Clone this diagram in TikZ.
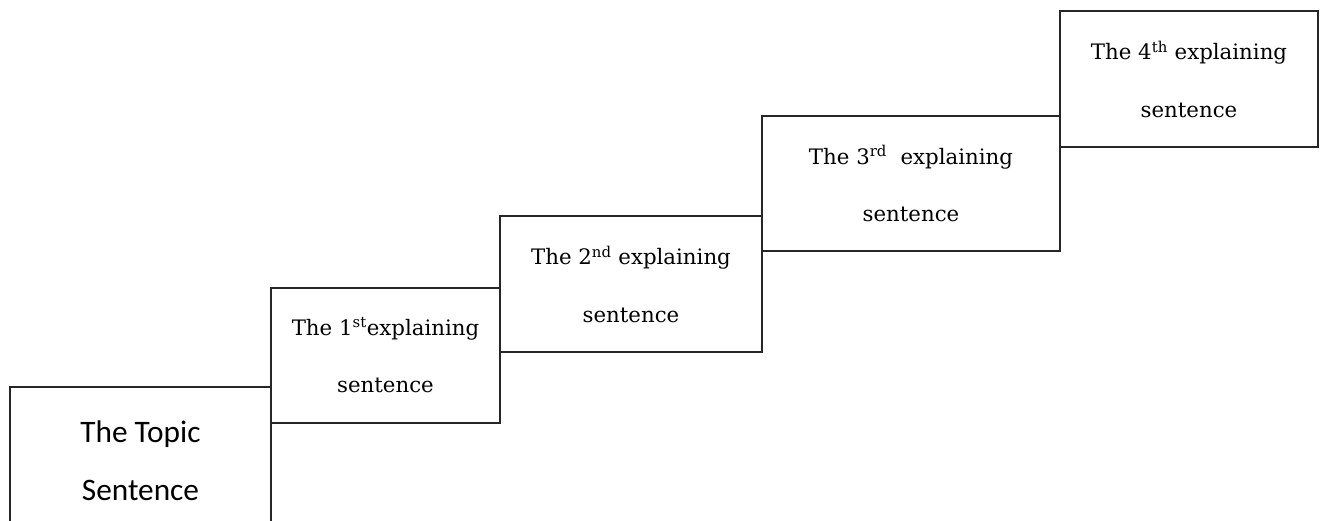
\documentclass[tikz,border=0pt]{standalone}
\usepackage{fontspec}
\setmainfont{DejaVu Serif}
\newfontfamily\topicfont{Carlito}
\begin{document}
\begin{tikzpicture}[x=1pt,y=-1pt,
  stepbox/.style={draw=black!85, line width=1.7pt, rectangle, inner sep=0pt,
    align=center, text=black, font=\fontsize{21.3}{57.5}\selectfont},
]
\clip (0,0) rectangle (1320,520);
\node[stepbox, minimum width=261pt, minimum height=148pt,
  font=\topicfont\fontsize{31.3}{58}\selectfont] (topic) at (140.5,461) {The Topic\\Sentence};
\node[stepbox, minimum width=229pt, minimum height=135pt] (s1) at (385.5,355.5)
  {The 1\textsuperscript{st}explaining\\sentence};
\node[stepbox, minimum width=262pt, minimum height=136pt] (s2) at (631,284)
  {The 2\textsuperscript{nd} explaining\\sentence};
\node[stepbox, minimum width=298pt, minimum height=135pt] (s3) at (911,183.5)
  {The 3\textsuperscript{rd}\ \ explaining\\sentence};
\node[stepbox, minimum width=258pt, minimum height=136pt] (s4) at (1189,79)
  {The 4\textsuperscript{th} explaining\\sentence};
\end{tikzpicture}
\end{document}
